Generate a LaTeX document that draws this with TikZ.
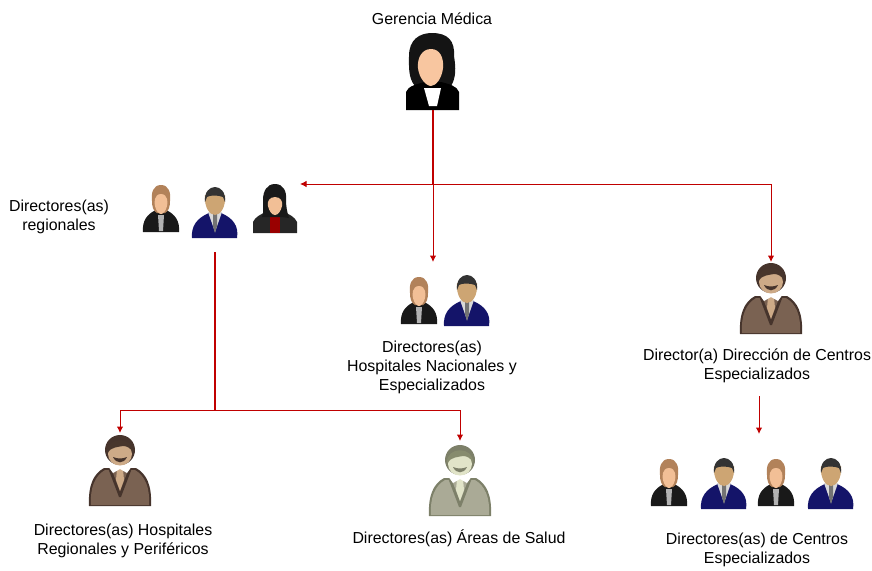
\documentclass[tikz,border=0pt]{standalone}
\usepackage{fontspec}
\setmainfont{Liberation Sans}
\usetikzlibrary{arrows.meta}
\definecolor{linkred}{RGB}{192,0,0}
\definecolor{suitbrown}{RGB}{122,98,82}
\definecolor{suitline}{RGB}{70,52,44}
\definecolor{hairbrown}{RGB}{72,54,44}
\definecolor{facetan}{RGB}{205,170,135}
\definecolor{suitgray}{RGB}{170,170,150}
\definecolor{linegray}{RGB}{125,128,105}
\definecolor{hairgray}{RGB}{135,140,110}
\definecolor{facegray}{RGB}{225,228,200}
\definecolor{skin}{RGB}{248,198,160}
\definecolor{blondehair}{RGB}{178,130,90}
\definecolor{navy}{RGB}{20,20,105}
\definecolor{manskin}{RGB}{205,165,115}
\tikzset{
  x=1pt,y=-1pt,
  lbl/.style={align=center,inner sep=0pt,font=\fontsize{15.9}{19}\selectfont,text=black},
  slot/.style={inner sep=0pt,outer sep=0pt,draw=none},
  link/.style={draw=linkred,line width=1pt},
  linkarrow/.style={link,-{Latex[length=6.5pt,width=6.5pt]}},
  trunk/.style={draw=linkred,line width=2pt},
  pics/suit/.style n args={6}{code={
    % 1 body 2 outline 3 hair 4 face 5 tie 6 mouth
    \fill[#2] (-31,34) .. controls (-32,14) and (-27,2) .. (-16,-4) -- (16,-4) .. controls (27,2) and (32,14) .. (31,34) -- cycle;
    \fill[#1] (-29,33) .. controls (-30,15) and (-25,4) .. (-15,-2) -- (15,-2) .. controls (25,4) and (30,15) .. (29,33) -- cycle;
    \fill[#2] (-12,-4) -- (12,-4) -- (1,25) -- (-1,25) -- cycle;
    \fill[#1] (-9,-4) -- (9,-4) -- (0,19) -- cycle;
    \fill[#5] (-3,-3) -- (3,-3) -- (4,8) -- (0,19) -- (-4,8) -- cycle;
    \fill[white] (-12,-6) -- (12,-6) -- (7,1) -- (0,-3) -- (-7,1) -- cycle;
    \fill[#2] (0,-22) circle[radius=15];
    \fill[#4] (0,-18) ellipse[x radius=12,y radius=11.5];
    \fill[#3] (-13,-19) .. controls (-14,-36) and (14,-36) .. (13,-19) .. controls (11,-24) and (7,-26) .. (3,-26) .. controls (-2,-25) and (-9,-25) .. (-13,-19) -- cycle;
    \fill[#6] (-7,-15) .. controls (-4,-8) and (4,-8) .. (7,-15) .. controls (2,-13) and (-2,-13) .. (-7,-15) -- cycle;
  }},
  pics/boss/.style={code={
    \fill[black!92] (-1,-39) .. controls (15,-39) and (22,-31) .. (21,-16) .. controls (23,-4) and (23,6) .. (18,14) -- (-18,14) .. controls (-25,6) and (-24,-6) .. (-24,-16) .. controls (-24,-32) and (-14,-39) .. (-1,-39) -- cycle;
    \fill[black] (-27,38) -- (-27,20) .. controls (-25,14) and (-16,12) .. (-8,10) -- (8,10) .. controls (16,12) and (24,14) .. (26,20) -- (26,38) -- cycle;
    \fill[white] (-9,16) -- (8,16) -- (4,34) -- (-4,34) -- cycle;
    \fill[skin] (-2,-23) .. controls (7,-23) and (11,-14) .. (10,-4) .. controls (9,6) and (3,14) .. (-2,14) .. controls (-7,14) and (-14,6) .. (-15,-4) .. controls (-16,-14) and (-11,-23) .. (-2,-23) -- cycle;
  }},
  pics/blonde/.style={code={
    \fill[black!90] (-18,23) .. controls (-19,12) and (-14,5) .. (-5,1) -- (5,1) .. controls (14,5) and (19,12) .. (18,23) -- cycle;
    \fill[black!30] (-3,6) -- (3,6) -- (2,22) -- (-2,22) -- cycle;
    \fill[blondehair] (0,-24) .. controls (8,-24) and (10,-16) .. (9,-8) .. controls (9,-3) and (8,2) .. (4,4) -- (-4,4) .. controls (-8,2) and (-9,-3) .. (-9,-8) .. controls (-10,-16) and (-8,-24) .. (0,-24) -- cycle;
    \fill[skin!90!brown] (0,-15) .. controls (7,-15) and (7,-6) .. (6,-3) .. controls (5,2) and (2,5) .. (0,5) .. controls (-2,5) and (-5,2) .. (-6,-3) .. controls (-7,-6) and (-7,-15) .. (0,-15) -- cycle;
  }},
  pics/bluesuit/.style={code={
    \fill[navy] (-23,26) .. controls (-24,14) and (-18,6) .. (-6,1) -- (6,1) .. controls (18,6) and (24,14) .. (22,26) -- cycle;
    \fill[white!85!black] (-7,0) -- (7,0) -- (0,20) -- cycle;
    \fill[black!55] (-2,2) -- (2,2) -- (2,14) -- (0,21) -- (-2,14) -- cycle;
    \fill[manskin] (-10,-17) .. controls (-11,-4) and (-5,3) .. (0,3) .. controls (5,3) and (11,-4) .. (10,-17) -- cycle;
    \fill[black!80] (-10,-10) .. controls (-12,-30) and (12,-30) .. (10,-10) -- (8,-15) .. controls (3,-17) and (-5,-17) .. (-8,-15) -- cycle;
  }},
  pics/redshirt/.style={code={
    \fill[black!85] (-22,25) -- (-22,14) .. controls (-20,9) and (-14,6) .. (-7,3) -- (7,3) .. controls (14,6) and (20,9) .. (22,14) -- (22,25) -- cycle;
    \fill[red!60!black] (-5,9) -- (5,9) -- (5,25) -- (-5,25) -- cycle;
    \fill[black!90] (0,-24) .. controls (8,-24) and (12,-17) .. (11,-8) .. controls (11,-2) and (12,4) .. (14,10) -- (7,9) -- (-7,9) -- (-13,9) .. controls (-11,4) and (-12,-2) .. (-12,-8) .. controls (-12,-17) and (-8,-24) .. (0,-24) -- cycle;
    \fill[skin!90!brown] (0,-11) .. controls (6,-11) and (8,-6) .. (7,-2) .. controls (6,3) and (3,7) .. (0,7) .. controls (-3,7) and (-6,3) .. (-7,-2) .. controls (-8,-6) and (-6,-11) .. (0,-11) -- cycle;
  }}
}
\begin{document}
\begin{tikzpicture}
\useasboundingbox (0,0) rectangle (872,570);
% slots for the figures
\node[slot,minimum width=54pt,minimum height=77pt] (boss) at (433,71.5) {};
\node[slot,minimum width=60pt,minimum height=56pt] (regional) at (215,224) {};
\coordinate (hub) at (433,184);
\coordinate (regend) at (300,184);
\coordinate (hnac) at (433,262);
\coordinate (cdir) at (771,262);
\coordinate (fork) at (215,410);
\coordinate (fl) at (120,410);
\coordinate (fr) at (460,410);
\coordinate (hreg) at (120,433);
\coordinate (arr) at (460,441);
\coordinate (s1) at (759,396);
\coordinate (s2) at (759,434);
\coordinate (corner) at (771,184);
% figures
\pic at (433,72) {boss};
\pic at (161,209) {blonde};
\pic at (215,212) {bluesuit};
\pic at (275,208) {redshirt};
\pic at (419,301) {blonde};
\pic at (467,300) {bluesuit};
\pic at (669,483) {blonde};
\pic at (724,483) {bluesuit};
\pic at (776,483) {blonde};
\pic at (831,483) {bluesuit};
\pic at (771,300) {suit={suitbrown}{suitline}{hairbrown}{facetan}{facetan}{suitline}};
\pic at (120,472) {suit={suitbrown}{suitline}{hairbrown}{facetan}{facetan}{suitline}};
\pic at (460,482) {suit={suitgray}{linegray}{hairgray}{facegray}{facegray}{linegray}};
% connectors
\draw[trunk] (boss.south) -- (hub);
\draw[linkarrow] (hub) -- (regend);
\draw[link] (hub) -- (corner);
\draw[linkarrow] (corner) -- (cdir);
\draw[linkarrow] (hub) -- (hnac);
\draw[trunk,line width=1.2pt] (regional.south) -- (fork);
\draw[link] (fl) -- (fr);
\draw[linkarrow] (fl) -- (hreg);
\draw[linkarrow] (fr) -- (arr);
\draw[linkarrow] (s1) -- (s2);
% labels
\node[lbl] (tboss) at (432,19) {Gerencia Médica};
\node[lbl] (treg) at (59,216.5) {Directores(as)\\regionales};
\node[lbl] (tnac) at (432,367) {Directores(as)\\Hospitales Nacionales y\\Especializados};
\node[lbl] (tcdir) at (757,365.5) {Director(a) Dirección de Centros\\Especializados};
\node[lbl] (threg) at (123,540.5) {Directores(as) Hospitales\\Regionales y Periféricos};
\node[lbl] (tareas) at (459,538) {Directores(as) Áreas de Salud};
\node[lbl] (tcent) at (757,549.5) {Directores(as) de Centros\\Especializados};
\end{tikzpicture}
\end{document}
